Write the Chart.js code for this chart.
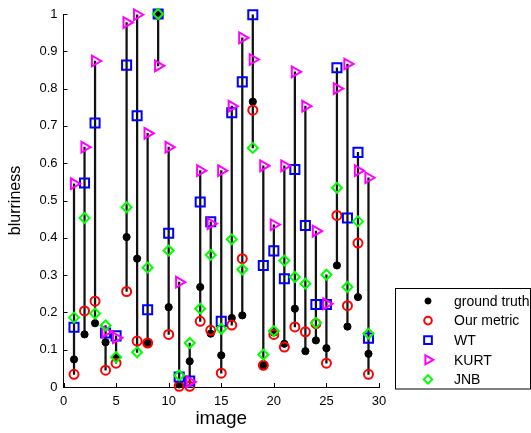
<!DOCTYPE html>
<html>
<head>
<meta charset="utf-8">
<script src="https://cdn.jsdelivr.net/npm/chart.js@4.4.1/dist/chart.umd.min.js"></script>
<style>
  html, body { margin: 0; padding: 0; background: #fff; }
  #wrap { width: 531px; height: 433px; position: relative; }
</style>
</head>
<body>
<div id="wrap"><canvas id="blurChart"></canvas></div>
<script>
// blurriness per image
const images = [1, 2, 3, 4, 5, 6, 7, 8, 9, 10, 11, 12, 13, 14, 15, 16, 17, 18, 19, 20, 21, 22, 23, 24, 25, 26, 27, 28, 29];
const groundTruth = [0.074, 0.141, 0.171, 0.120, 0.078, 0.402, 0.344, 0.118, 1.0, 0.214, 0.007, 0.069, 0.268, 0.143, 0.085, 0.185, 0.192, 0.765, 0.058, 0.146, 0.116, 0.210, 0.096, 0.125, 0.104, 0.326, 0.162, 0.241, 0.089];
const ourMetric = [0.034, 0.204, 0.230, 0.045, 0.064, 0.256, 0.123, 0.118, 1.0, 0.141, 0.002, 0.002, 0.176, 0.152, 0.037, 0.166, 0.344, 0.742, 0.058, 0.141, 0.107, 0.161, 0.148, 0.170, 0.064, 0.460, 0.218, 0.386, 0.034];
const wt = [0.160, 0.547, 0.708, 0.145, 0.137, 0.863, 0.727, 0.207, 1.0, 0.412, 0.027, 0.016, 0.496, 0.443, 0.176, 0.735, 0.818, 0.998, 0.326, 0.365, 0.290, 0.583, 0.433, 0.221, 0.221, 0.856, 0.453, 0.629, 0.131];
const kurt = [0.545, 0.643, 0.874, 0.148, 0.132, 0.977, 0.998, 0.680, 0.861, 0.643, 0.281, 0.014, 0.580, 0.438, 0.580, 0.753, 0.936, 0.878, 0.593, 0.435, 0.593, 0.845, 0.753, 0.418, 0.223, 0.800, 0.866, 0.580, 0.561];
const jnb = [0.186, 0.453, 0.197, 0.165, 0.080, 0.482, 0.093, 0.320, 1.0, 0.366, 0.031, 0.118, 0.210, 0.354, 0.156, 0.396, 0.315, 0.641, 0.087, 0.150, 0.339, 0.295, 0.277, 0.172, 0.301, 0.534, 0.268, 0.444, 0.143];

const xTicks = [0, 5, 10, 15, 20, 25, 30];
const yTicks = [0, 0.1, 0.2, 0.3, 0.4, 0.5, 0.6, 0.7, 0.8, 0.9, 1];

const FONT = '"Liberation Sans", Arial, Helvetica, sans-serif';

const toPoints = arr => arr.map((v, i) => ({ x: images[i], y: v }));

// stems: one segment per image from lowest to highest score
const allSeries = [groundTruth, ourMetric, wt, kurt, jnb];
const stems = images.map((x, i) => {
    const vals = allSeries.map(s => s[i]);
    return { x: x, y: [Math.min(...vals), Math.max(...vals)] };
});

const series = [
    { label: 'ground truth', data: groundTruth, style: 'circle', radius: 3.6, bw: 1, color: '#000', fill: '#000', rotation: 0 },
    { label: 'Our metric', data: ourMetric, style: 'circle', radius: 4.5, bw: 2, color: '#ff0000', fill: 'rgba(0,0,0,0)', rotation: 0 },
    { label: 'WT', data: wt, style: 'rect', radius: 6.4, bw: 2, color: '#0000ff', fill: 'rgba(0,0,0,0)', rotation: 0 },
    { label: 'KURT', data: kurt, style: 'triangle', radius: 6.2, bw: 2, color: '#ff00ff', fill: 'rgba(0,0,0,0)', rotation: 90 },
    { label: 'JNB', data: jnb, style: 'rectRot', radius: 5, bw: 2, color: '#00ff00', fill: 'rgba(0,0,0,0)', rotation: 0 }
];

const datasets = [{
    type: 'bar',
    label: 'stems',
    data: stems,
    backgroundColor: '#111',
    borderWidth: 0,
    barThickness: 1.6,
    order: 10
}];
series.forEach((s, k) => {
    datasets.push({
        type: 'scatter',
        label: s.label,
        data: toPoints(s.data),
        pointStyle: s.style,
        pointRadius: s.radius,
        pointRotation: s.rotation,
        pointBorderColor: s.color,
        pointBackgroundColor: s.fill,
        pointBorderWidth: s.bw,
        clip: false,
        order: 6 - k
    });
});

// inward tick marks (matlab style) + boxed legend in the lower right
const matlabBits = {
    id: 'matlabBits',
    afterDraw(chart) {
        const { ctx, chartArea: a, scales } = chart;
        ctx.save();
        ctx.strokeStyle = '#000';
        ctx.lineWidth = 1;
        ctx.beginPath();
        yTicks.forEach(v => {
            const py = Math.round(scales.y.getPixelForValue(v)) + 0.5;
            ctx.moveTo(a.left, py);
            ctx.lineTo(a.left + 4, py);
        });
        xTicks.forEach(v => {
            const px = Math.round(scales.x.getPixelForValue(v)) + 0.5;
            ctx.moveTo(px, a.bottom);
            ctx.lineTo(px, a.bottom - 4);
        });
        ctx.stroke();

        // legend
        const bx = 395.5, by = 288.5, bw = 135, bh = 100.5;
        ctx.fillStyle = '#fff';
        ctx.fillRect(bx, by, bw, bh);
        ctx.strokeRect(bx, by, bw, bh);
        ctx.font = '14px ' + FONT;
        ctx.textBaseline = 'middle';
        series.forEach((s, k) => {
            const cy = 301 + k * 19.6;
            ctx.fillStyle = s.fill;
            ctx.strokeStyle = s.color;
            ctx.lineWidth = s.bw;
            Chart.helpers.drawPoint(ctx, {
                pointStyle: s.style,
                radius: s.radius * 0.85,
                rotation: s.rotation,
                borderWidth: s.bw
            }, 428, cy);
            ctx.fillStyle = '#000';
            ctx.fillText(s.label, 454, cy + 1);
        });
        ctx.restore();
    }
};

new Chart(document.getElementById('blurChart'), {
    type: 'scatter',
    data: { datasets: datasets },
    options: {
        responsive: true,
        maintainAspectRatio: false,
        animation: false,
        layout: { padding: { top: 14, right: 152, left: 0, bottom: 0 } },
        plugins: {
            legend: { display: false },
            tooltip: { enabled: false }
        },
        scales: {
            x: {
                type: 'linear',
                min: 0,
                max: 30,
                offset: false,
                afterBuildTicks: s => { s.ticks = xTicks.map(v => ({ value: v })); },
                afterFit: s => { s.height = 46; },
                grid: { display: false, drawTicks: false },
                border: { display: true, color: '#000', width: 1 },
                ticks: { color: '#000', padding: 7, font: { family: FONT, size: 13 } },
                title: { display: true, text: 'image', color: '#000', padding: { top: 0, bottom: 3 }, font: { family: FONT, size: 19 } }
            },
            y: {
                type: 'linear',
                min: 0,
                max: 1,
                afterBuildTicks: s => { s.ticks = yTicks.map(v => ({ value: v })); },
                afterFit: s => { s.width = 63.5; },
                grid: { display: false, drawTicks: false },
                border: { display: true, color: '#000', width: 1 },
                ticks: {
                    color: '#000',
                    padding: 6,
                    font: { family: FONT, size: 13 },
                    callback: v => String(Number(v.toFixed(1)))
                },
                title: { display: true, text: 'blurriness', color: '#000', padding: { top: 6, bottom: 0 }, font: { family: FONT, size: 16 } }
            }
        }
    },
    plugins: [matlabBits]
});
</script>
</body>
</html>
